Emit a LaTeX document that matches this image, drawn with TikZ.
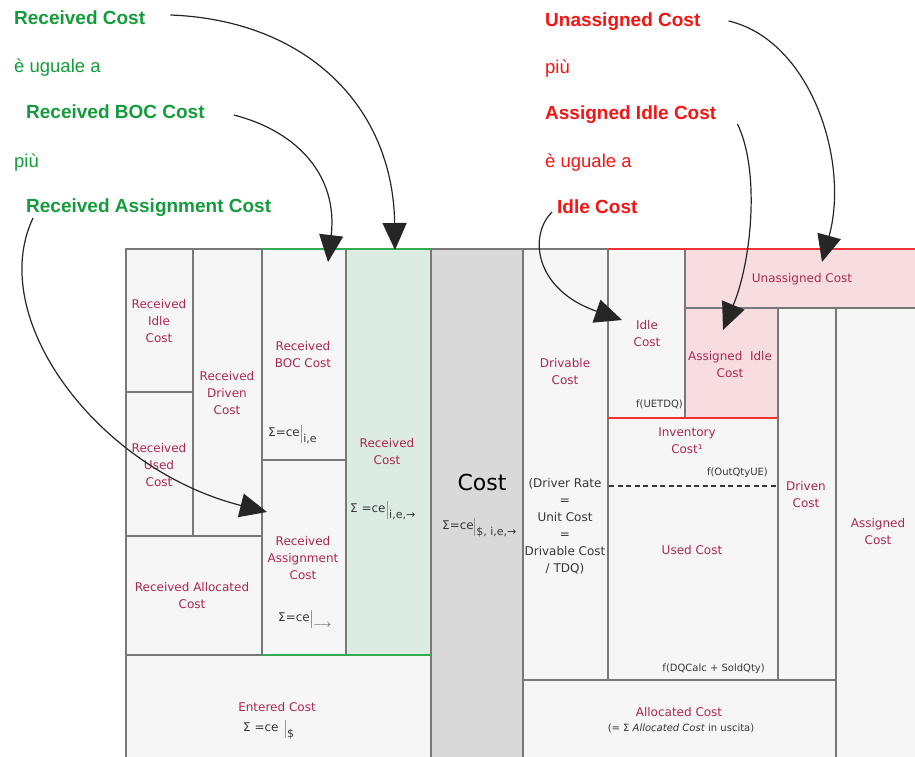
\documentclass[tikz,border=0pt]{standalone}
\usepackage{fontspec}
\setmainfont{DejaVu Sans}
\newfontfamily\headfont{Liberation Sans}
\usetikzlibrary{arrows.meta}

\definecolor{cellfill}{RGB}{246,246,246}
\definecolor{costfill}{RGB}{217,217,217}
\definecolor{greenfill}{RGB}{220,236,226}
\definecolor{pinkfill}{RGB}{248,221,224}
\definecolor{gridline}{RGB}{120,120,120}
\definecolor{labelred}{RGB}{170,40,80}
\definecolor{headgreen}{RGB}{20,155,60}
\definecolor{headred}{RGB}{245,20,20}
\definecolor{edgegreen}{RGB}{50,170,80}
\definecolor{edgered}{RGB}{240,50,50}
\definecolor{formulacol}{RGB}{55,55,55}
\definecolor{barcol}{RGB}{150,150,150}

% sum formula: left part, gap before the bar, subscript
\newcommand{\cesum}[3]{#1\hspace{#2}{\color{barcol}\rule[-7pt]{0.6pt}{18pt}}\hspace{2pt}\raisebox{-6pt}{\fontsize{11}{11}\selectfont #3}}

\begin{document}
\begin{tikzpicture}[x=1pt,y=-1pt,
  cell/.style={fill=cellfill,draw=gridline,line width=1.5pt},
  costcell/.style={cell,fill=costfill},
  greencell/.style={cell,fill=greenfill},
  pinkcell/.style={cell,fill=pinkfill},
  lbl/.style={text=labelred,font=\fontsize{12}{17}\selectfont,align=center,inner sep=0pt},
  frm/.style={text=formulacol,font=\fontsize{12}{14}\selectfont,inner sep=0pt,anchor=base west},
  note/.style={text=formulacol,font=\fontsize{12}{17}\selectfont,align=center,inner sep=0pt},
  fnote/.style={text=formulacol,font=\fontsize{10}{12}\selectfont,inner sep=0pt},
  costfont/.style={text=black,font=\fontsize{22}{26}\selectfont,inner sep=0pt},
  headb/.style={anchor=base west,inner sep=0pt,font=\headfont\bfseries\fontsize{19}{22}\selectfont},
  headr/.style={anchor=base west,inner sep=0pt,font=\headfont\fontsize{18.5}{22}\selectfont},
  conn/.style={line width=1.2pt,draw=black!85,-{Triangle[length=27pt,width=24pt]}}
]
\useasboundingbox (0,0) rectangle (915,756);

% ---- left block: received costs
\path[cell] (126,249) rectangle (193,392);
\path[cell] (126,392) rectangle (193,536);
\path[cell] (193,249) rectangle (262,536);
\path[cell] (262,249) rectangle (346,460);
\path[cell] (262,460) rectangle (346,655);
\path[cell] (126,536) rectangle (262,655);
\path[greencell] (346,249) rectangle (431,655);
\path[cell] (126,655) rectangle (431,760);
% ---- total cost column
\path[costcell] (431,249) rectangle (523,760);
% ---- right block
\path[cell] (523,249) rectangle (608,680);
\path[cell] (608,249) rectangle (685,418);
\path[pinkcell] (685,249) rectangle (920,308);
\path[pinkcell] (685,308) rectangle (778,418);
\path[cell] (608,418) rectangle (778,680);
\path[cell] (778,308) rectangle (836,680);
\path[cell] (836,308) rectangle (920,760);
\path[cell] (523,680) rectangle (836,760);
\draw[formulacol,line width=1.2pt,dash pattern=on 5pt off 3.5pt] (609,486) -- (777,486);

% coloured edges
\draw[edgegreen,line width=1.6pt] (262,249) -- (431,249);
\draw[edgegreen,line width=1.6pt] (262,655) -- (431,655);
\draw[edgered,line width=1.6pt] (608,249) -- (920,249);
\draw[edgered,line width=1.6pt] (608,418) -- (778,418);

% ---- cell labels
\node[lbl] (ridle) at (159,321) {Received\\Idle\\Cost};
\node[lbl] (rused) at (159,465) {Received\\Used\\Cost};
\node[lbl] (rdriven) at (227,393) {Received\\Driven\\Cost};
\node[lbl] (rboc) at (303,355) {Received\\BOC Cost};
\node[frm] (fboc) at (268,436) {\cesum{Σ=ce}{1pt}{i,e}};
\node[lbl] (rcost) at (387,452) {Received\\Cost};
\node[frm] (frcost) at (350,512) {\cesum{Σ =ce}{1pt}{i,e,→}};
\node[lbl] (rassign) at (303,558) {Received\\Assignment\\Cost};
\node[frm] (fassign) at (278,621) {\cesum{Σ=ce}{1pt}{$\longrightarrow$}};
\node[lbl] (ralloc) at (192,596) {Received Allocated\\Cost};
\node[lbl] (entered) at (277,707) {Entered Cost};
\node[frm] (fentered) at (243,731) {\cesum{Σ =ce}{6pt}{\$}};
\node[costfont] (cost) at (482,482) {Cost};
\node[frm] (fcost) at (442,529) {\cesum{Σ=ce}{0pt}{\$, i,e,→}};
\node[lbl] (drivable) at (565,372) {Drivable\\Cost};
\node[note] (rate) at (565,526) {(Driver Rate\\=\\Unit Cost\\=\\Drivable Cost\\/ TDQ)};
\node[lbl] (idle) at (647,334) {Idle\\Cost};
\node[fnote,anchor=east] (fuetdq) at (683,404) {f(UETDQ)};
\node[lbl] (unassigned) at (802,279) {Unassigned Cost};
\node[lbl] (assidle) at (730,365) {Assigned\ \ Idle\\Cost};
\node[lbl] (inventory) at (687,441) {Inventory\\Cost¹};
\node[fnote,anchor=east] (foutqty) at (768,473) {f(OutQtyUE)};
\node[lbl] (driven) at (806,495) {Driven\\Cost};
\node[lbl] (used) at (692,550) {Used Cost};
\node[fnote,anchor=east] (fdq) at (765,669) {f(DQCalc + SoldQty)};
\node[lbl] (assigned) at (878,532) {Assigned\\Cost};
\node[lbl] (allocated) at (679,712) {Allocated Cost};
\node[fnote] (allocnote) at (681,728) {(= Σ \textit{Allocated Cost} in uscita)};

% ---- headings, green group
\node[headb,text=headgreen] (hrc) at (14,24) {Received Cost};
\node[headr,text=headgreen] (heq1) at (14,72) {è uguale a};
\node[headb,text=headgreen] (hboc) at (26,118) {Received BOC Cost};
\node[headr,text=headgreen] (hplus1) at (14,167) {più};
\node[headb,text=headgreen] (hrac) at (26,212) {Received Assignment Cost};
% ---- headings, red group
\node[headb,text=headred] (huc) at (545,26) {Unassigned Cost};
\node[headr,text=headred] (hplus2) at (545,73) {più};
\node[headb,text=headred] (haic) at (545,119) {Assigned Idle Cost};
\node[headr,text=headred] (heq2) at (545,167) {è uguale a};
\node[headb,text=headred] (hic) at (557,213) {Idle Cost};

% ---- arrow tips on the table
\coordinate (tipRC) at (395,250);
\coordinate (tipBOC) at (328,262);
\coordinate (tipRAC) at (267,512);
\coordinate (tipIC) at (622,320);
\coordinate (tipAIC) at (723,330);
\coordinate (tipUC) at (822,262);

\draw[conn] ([shift={(25,-9)}]hrc.base east) .. controls (305,20) and (393,105) .. (tipRC);
\draw[conn] ([shift={(29,-3)}]hboc.base east) .. controls (300,132) and (338,178) .. (tipBOC);
\draw[conn] ([shift={(7,6)}]hrac.base west) .. controls (-15,320) and (100,470) .. (tipRAC);
\draw[conn] ([shift={(-5,-1)}]hic.base west) .. controls (528,236) and (535,290) .. (tipIC);
\draw[conn] ([shift={(21,5)}]haic.base east) .. controls (760,170) and (752,260) .. (tipAIC);
\draw[conn] ([shift={(28,-5)}]huc.base east) .. controls (810,40) and (850,160) .. (tipUC);
\end{tikzpicture}
\end{document}
